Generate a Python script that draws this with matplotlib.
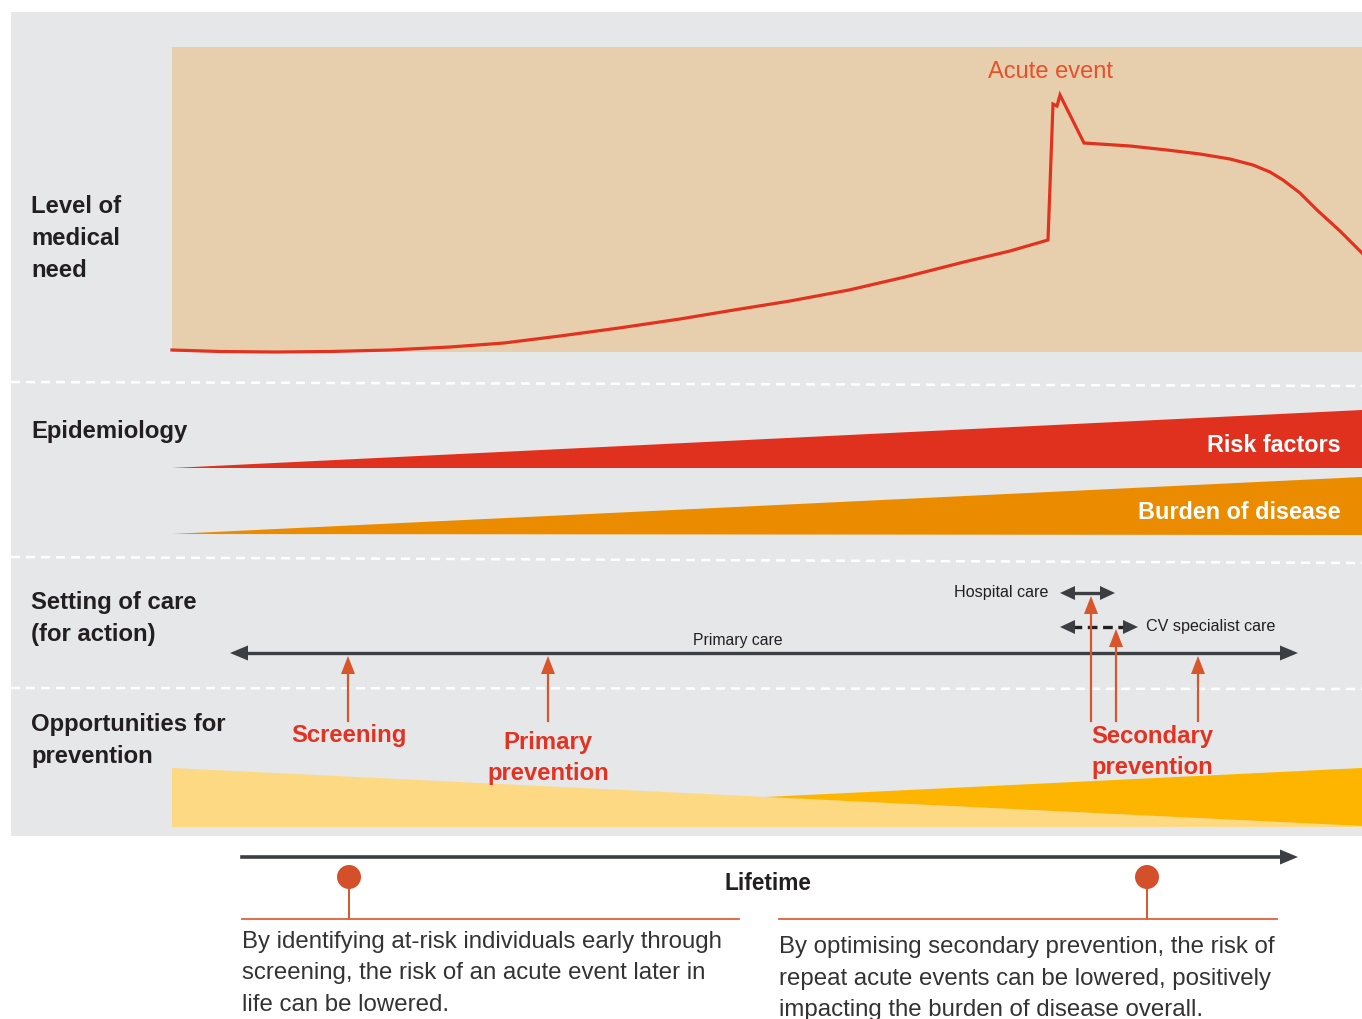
"""Care pathway infographic: medical need, epidemiology, setting of care, prevention."""
import matplotlib

matplotlib.use("Agg")
import matplotlib.pyplot as plt

plt.rcParams["font.family"] = ["Liberation Sans", "DejaVu Sans"]
plt.rcParams["lines.scale_dashes"] = False

# --- data (pixel space, y grows downward) ---
need_x = [172, 220, 275, 330, 390, 450, 504, 560, 619, 680, 734, 790, 849,
          905, 964, 1010, 1048,
          1053, 1057, 1060, 1084, 1130, 1167, 1200, 1230, 1253, 1270, 1283,
          1300, 1317, 1340, 1362]
need_y = [350, 351.5, 352, 351.5, 350, 347, 343, 336, 328, 319, 310, 301, 290,
          277, 262, 251, 240,
          104, 106, 95, 143, 146, 150, 154, 159, 165, 172, 180,
          193, 210, 231, 253]

risk_x = [172, 1362, 1362]
risk_y = [468, 410, 468]
burden_x = [172, 1362, 1362]
burden_y = [534, 477, 535]
early_x = [172, 1362, 1362, 172]
early_y = [768, 826, 827, 827]
late_x = [765, 1362, 1362]
late_y = [797, 768, 826]

row_labels = [
    (["Level of", "medical", "need"], 213),
    (["Epidemiology"], 438),
    (["Setting of care", "(for action)"], 609),
    (["Opportunities for", "prevention"], 731),
]
separators = [(382, 386), (557, 563), (688, 689)]

# prevention arrows: x, tip y
prev_arrows = [(348, 656), (548, 656), (1091, 596), (1116, 629), (1198, 656)]
prev_labels = [
    (["Screening"], 349, 742),
    (["Primary", "prevention"], 548, 749),
    (["Secondary", "prevention"], 1152, 743),
]
dots_x = [349, 1147]
notes = [
    (242, 739, ["By identifying at-risk individuals early through",
                "screening, the risk of an acute event later in",
                "life can be lowered."], 948),
    (779, 1277, ["By optimising secondary prevention, the risk of",
                 "repeat acute events can be lowered, positively",
                 "impacting the burden of disease overall."], 953),
]

GREY = "#e6e7e9"
TAN = "#e7cfae"
RED = "#e2321f"
LABEL_RED = "#e13222"
ORANGE = "#ea8b00"
ARROW_OR = "#d9552a"
DARK = "#231f20"
AXIS = "#3b3e42"


def head(ax, x, y, direction, length, width, color):
    """Triangular arrow head with its tip at (x, y)."""
    if direction == "up":
        pts = [(x, y), (x - width / 2, y + length), (x + width / 2, y + length)]
    elif direction == "right":
        pts = [(x, y), (x - length, y - width / 2), (x - length, y + width / 2)]
    else:  # left
        pts = [(x, y), (x + length, y - width / 2), (x + length, y + width / 2)]
    ax.fill([p[0] for p in pts], [p[1] for p in pts], color=color, lw=0, zorder=5)


def lines_of(ax, lines, x, y0, step, **kw):
    for i, t in enumerate(lines):
        ax.text(x, y0 + i * step, t, va="baseline", **kw)


fig = plt.figure(figsize=(13.62, 10.19), dpi=100)
ax = fig.add_axes([0, 0, 1, 1])
ax.set_xlim(0, 1362)
ax.set_ylim(1019, 0)
ax.axis("off")

# panels
ax.fill([11, 1362, 1362, 11], [12, 12, 836, 836], color=GREY, lw=0)
ax.fill([172, 1362, 1362, 172], [47, 47, 352, 352], color=TAN, lw=0)
for y_l, y_r in separators:
    ax.plot([11, 1362], [y_l, y_r], color="white", lw=1.8, dashes=(6.5, 4.3))

# level of medical need
ax.plot(need_x, need_y, color=RED, lw=2.3, solid_joinstyle="miter", zorder=3)
ax.text(1051, 78, "Acute event", color="#e8502a", fontsize=17,
        ha="center", va="baseline")

# epidemiology wedges
ax.fill(risk_x, risk_y, color="#e0301e", lw=0)
ax.fill(burden_x, burden_y, color=ORANGE, lw=0)
ax.text(1341, 452, "Risk factors", color="white", fontsize=16.8,
        fontweight="bold", ha="right", va="baseline")
ax.text(1341, 519, "Burden of disease", color="white", fontsize=16.8,
        fontweight="bold", ha="right", va="baseline")

# opportunities wedges
ax.fill(early_x, early_y, color="#fdd983", lw=0)
ax.fill(late_x, late_y, color="#fdb500", lw=0)

# row labels
for lines, y0 in row_labels:
    lines_of(ax, lines, 31, y0, 32, color=DARK, fontsize=17.2, fontweight="bold")

# setting of care arrows
ax.plot([240, 1285], [653, 653], color=AXIS, lw=2.4)
head(ax, 230, 653, "left", 18, 15, AXIS)
head(ax, 1298, 653, "right", 18, 15, AXIS)
ax.text(738, 645, "Primary care", color=DARK, fontsize=11.3, ha="center", va="baseline")

ax.plot([1070, 1105], [593, 593], color=AXIS, lw=2.4)
head(ax, 1060, 593, "left", 15, 14, AXIS)
head(ax, 1115, 593, "right", 15, 14, AXIS)
ax.text(1048, 597, "Hospital care", color=DARK, fontsize=11.6, ha="right", va="baseline")

ax.plot([1072, 1126], [627, 627], color=DARK, lw=2.4, dashes=(7, 4))
head(ax, 1060, 627, "left", 15, 14, AXIS)
head(ax, 1138, 627, "right", 15, 14, AXIS)
ax.text(1146, 631, "CV specialist care", color=DARK, fontsize=11.6, ha="left", va="baseline")

# prevention arrows
for x, tip in prev_arrows:
    ax.plot([x, x], [tip + 10, 721], color=ARROW_OR, lw=1.6, zorder=4)
    head(ax, x, tip, "up", 18, 14, ARROW_OR)
for lines, x, y0 in prev_labels:
    lines_of(ax, lines, x, y0, 31, color=LABEL_RED, fontsize=17.2,
             fontweight="bold", ha="center")

# lifetime axis
ax.plot([242, 1285], [857, 857], color=AXIS, lw=2.6)
head(ax, 1298, 857, "right", 18, 15, AXIS)
ax.text(768, 890, "Lifetime", color=DARK, fontsize=16.3, fontweight="bold",
        ha="center", va="baseline")

for x in dots_x:
    ax.plot([x, x], [878, 919], color=ARROW_OR, lw=1.4)
    ax.add_patch(plt.Circle((x, 877), 12, color="#d4502a", lw=0, zorder=5))
for x0, x1, lines, y0 in notes:
    ax.plot([x0, x1], [919, 919], color="#e0603a", lw=1.3)
    lines_of(ax, lines, x0, y0, 31.5, color="#333333", fontsize=17.3)

fig.savefig("out.png", dpi=100)
